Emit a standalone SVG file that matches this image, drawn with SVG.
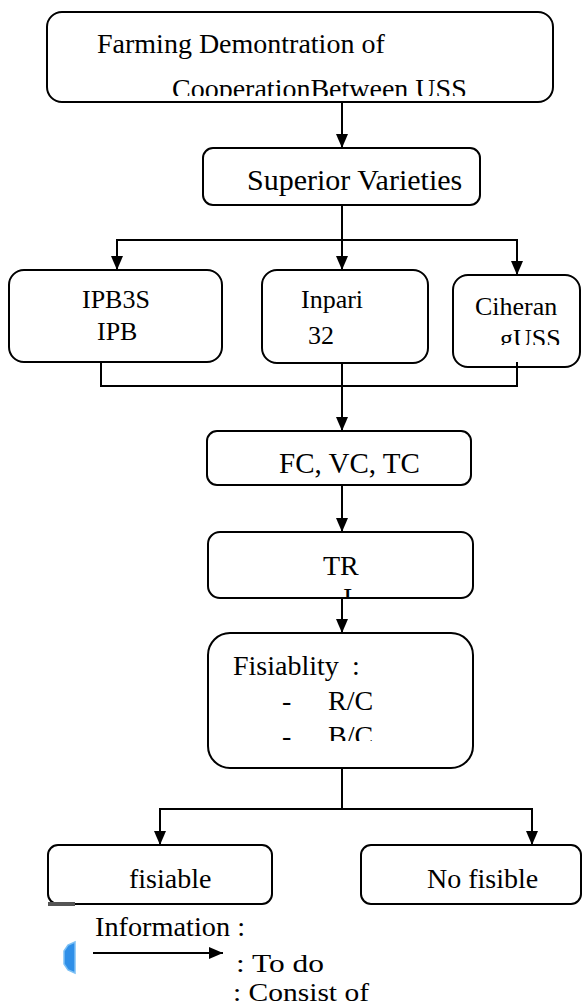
<svg xmlns="http://www.w3.org/2000/svg" width="582" height="1007" viewBox="0 0 582 1007">
  <style>
    .box { fill: #ffffff; stroke: #000000; stroke-width: 2; }
    .t { font-family: "Liberation Serif", "Times New Roman", serif; font-size: 28px; fill: #000000; }
    .s { font-size: 26px; }
    .lg { font-size: 26px; }
    .wire { fill: none; stroke: #000000; stroke-width: 2; }
  </style>
  <defs>
    <marker id="arrow" markerUnits="userSpaceOnUse" viewBox="0 0 14 12" refX="14" refY="6" markerWidth="14" markerHeight="12" orient="auto">
      <path d="M0,0 L14,6 L0,12 Z" fill="#000000"/>
    </marker>
    <clipPath id="clipTop"><rect x="47" y="12" width="506" height="84"/></clipPath>
    <clipPath id="clipCiheran"><rect x="453" y="275" width="129" height="70"/></clipPath>
    <clipPath id="clipTR"><rect x="208" y="532" width="265" height="65"/></clipPath>
    <clipPath id="clipFeas"><rect x="208" y="633" width="265" height="108"/></clipPath>
  </defs>

  <!-- connectors -->
  <g id="connectors">
    <line class="wire" x1="342" y1="102" x2="342" y2="148" marker-end="url(#arrow)"/>
    <line class="wire" x1="342" y1="205" x2="342" y2="270" marker-end="url(#arrow)"/>
    <polyline class="wire" points="117,270 117,240 517,240 517,275" marker-end="url(#arrow)"/>
    <line class="wire" x1="117" y1="240" x2="117" y2="270" marker-end="url(#arrow)"/>
    <polyline class="wire" points="101,362 101,386 517,386 517,362"/>
    <line class="wire" x1="342" y1="363" x2="342" y2="431" marker-end="url(#arrow)"/>
    <line class="wire" x1="342" y1="485" x2="342" y2="532" marker-end="url(#arrow)"/>
    <line class="wire" x1="342" y1="598" x2="342" y2="633" marker-end="url(#arrow)"/>
    <line class="wire" x1="342" y1="768" x2="342" y2="809"/>
    <polyline class="wire" points="160,845 160,809 532,809 532,845" marker-end="url(#arrow)"/>
    <line class="wire" x1="160" y1="809" x2="160" y2="845" marker-end="url(#arrow)"/>
  </g>

  <g id="node-demo">
    <rect class="box" x="47" y="12" width="506" height="90" rx="15"/>
    <text class="t" x="97" y="53">Farming Demontration of</text>
    <text class="t" x="172" y="98" clip-path="url(#clipTop)">CooperationBetween USS</text>
  </g>

  <g id="node-superior">
    <rect class="box" x="203" y="148" width="277" height="57" rx="10"/>
    <text class="t" x="247" y="190" style="font-size:30px">Superior Varieties</text>
  </g>

  <g id="node-ipb">
    <rect class="box" x="9" y="270" width="213" height="92" rx="15"/>
    <text class="t s" x="82" y="308">IPB3S</text>
    <text class="t s" x="97" y="340">IPB</text>
  </g>

  <g id="node-inpari">
    <rect class="box" x="262" y="270" width="166" height="93" rx="15"/>
    <text class="t s" x="301" y="308">Inpari</text>
    <text class="t s" x="308" y="344">32</text>
  </g>

  <g id="node-ciheran">
    <rect class="box" x="453" y="275" width="127" height="92" rx="15"/>
    <text class="t s" x="475" y="315">Ciheran</text>
    <text class="t s" x="500" y="347" clip-path="url(#clipCiheran)">gUSS</text>
    <line class="wire" x1="517" y1="362" x2="517" y2="368"/>
  </g>

  <g id="node-fc">
    <rect class="box" x="207" y="431" width="264" height="54" rx="10"/>
    <text class="t" x="279" y="473" style="font-size:29px">FC, VC, TC</text>
  </g>

  <g id="node-tr">
    <rect class="box" x="208" y="532" width="265" height="66" rx="12"/>
    <text class="t" x="323" y="575">TR</text>
    <text class="t" x="343" y="607" clip-path="url(#clipTR)">I</text>
  </g>

  <g id="node-feasibility">
    <rect class="box" x="208" y="633" width="265" height="135" rx="22"/>
    <text class="t" x="233" y="675">Fisiablity <tspan x="352">:</tspan></text>
    <text class="t" x="282" y="710">-<tspan x="328">R/C</tspan></text>
    <text class="t" clip-path="url(#clipFeas)" x="282" y="745">-<tspan x="328">B/C</tspan></text>
  </g>

  <g id="node-feasible">
    <rect class="box" x="48" y="845" width="224" height="59" rx="10"/>
    <rect x="48" y="902" width="27" height="4" fill="#555555"/>
    <text class="t" x="129" y="888">fisiable</text>
  </g>

  <g id="node-not-feasible">
    <rect class="box" x="361" y="845" width="220" height="59" rx="10"/>
    <text class="t" x="427" y="888">No fisible</text>
  </g>

  <g id="legend">
    <polygon points="75,942 68,945 64,951 64,964 68,970 75,973" fill="#2f8fe8" stroke="#7cc0f5" stroke-width="1.5"/>
    <text class="t" x="95" y="936" textLength="150" lengthAdjust="spacingAndGlyphs">Information :</text>
    <line class="wire" x1="93" y1="953" x2="223" y2="953" marker-end="url(#arrow)"/>
    <text class="t lg" x="236" y="972" textLength="88" lengthAdjust="spacingAndGlyphs">: To do</text>
    <text class="t lg" x="233" y="1001" textLength="136" lengthAdjust="spacingAndGlyphs">: Consist of</text>
  </g>
</svg>
